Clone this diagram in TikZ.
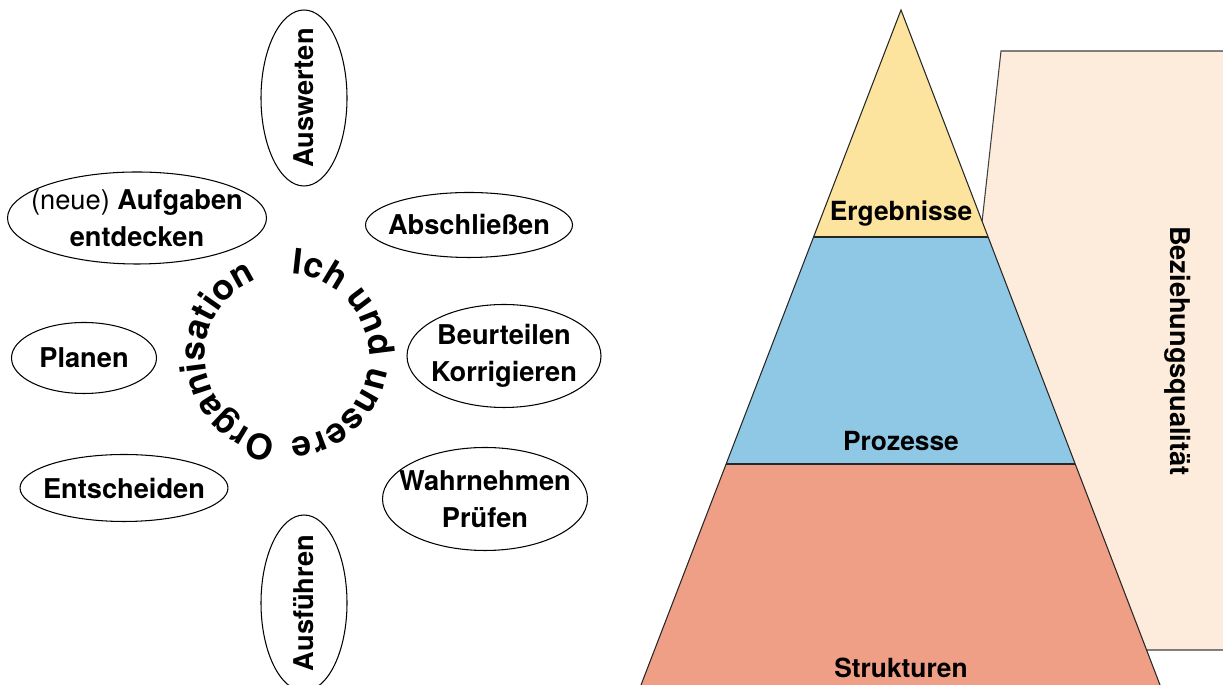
\documentclass[tikz,border=0pt]{standalone}
\usepackage{fontspec}
\setmainfont{TeX Gyre Heros}
\usetikzlibrary{calc,decorations.text}
\definecolor{gelb}{RGB}{252,228,158}
\definecolor{blau}{RGB}{143,200,228}
\definecolor{lachs}{RGB}{238,159,134}
\definecolor{pfirsich}{RGB}{253,235,220}
\tikzset{
  ovaltext/.style={inner sep=0pt,align=center,font=\fontsize{15.5}{21}\selectfont\bfseries},
  oval/.style={draw,line width=0.6pt},
  stufentext/.style={font=\fontsize{15}{18}\selectfont\bfseries},
  kreistext/.style={decorate,decoration={text along path,text align=left,
      text={|\fontsize{20}{20}\selectfont\bfseries|#1}}}
}

\begin{document}
\begin{tikzpicture}[x=0.02cm,y=0.02cm]
      \useasboundingbox (0,0) rectangle (1223,685);
      \clip (0,0) rectangle (1223,685);
      % Ellipsen links
      \node[ovaltext,rotate=90] (auswerten) at (304,587) {Auswerten};
      \node[ovaltext] (abschliessen) at (469,460) {Abschließen};
      \node[ovaltext] (aufgaben) at (137,467) {{\mdseries (neue)} Aufgaben\\entdecken};
      \node[ovaltext] (beurteilen) at (504,329) {Beurteilen\\Korrigieren};
      \node[ovaltext] (planen) at (84,327) {Planen};
      \node[ovaltext] (entscheiden) at (124,197) {Entscheiden};
      \node[ovaltext] (wahrnehmen) at (485,186) {Wahrnehmen\\Prüfen};
      \node[ovaltext,rotate=90] (ausfuehren) at (304,82) {Ausführen};
      \draw[oval] (auswerten.center) ellipse [x radius=43,y radius=88];
      \draw[oval] (abschliessen.center) ellipse [x radius=103.5,y radius=32.5];
      \draw[oval] (aufgaben.center) ellipse [x radius=129.5,y radius=46];
      \draw[oval] (beurteilen.center) ellipse [x radius=97,y radius=51.5];
      \draw[oval] (planen.center) ellipse [x radius=72.5,y radius=35.5];
      \draw[oval] (entscheiden.center) ellipse [x radius=104,y radius=33.5];
      \draw[oval] (wahrnehmen.center) ellipse [x radius=102.5,y radius=51.5];
      \draw[oval] (ausfuehren.center) ellipse [x radius=43,y radius=88];
      % Text im Kreis
      \coordinate (mitte) at (287,329);
      \path[kreistext=Organisation] (mitte) ++(263:1.64cm) arc[start angle=263,end angle=95,radius=1.64cm];
      \path[kreistext=Ich und unsere] (mitte) ++(87:1.64cm) arc[start angle=87,end angle=-92,radius=1.64cm];
      % Pyramide rechts
      \coordinate (spitze) at (901,675);
      \coordinate (ul) at (641,0);
      \coordinate (ur) at (1160,0);
      \coordinate (a1) at ($(spitze)!0.3363!(ul)$);
      \coordinate (a2) at ($(spitze)!0.3363!(ur)$);
      \coordinate (b1) at ($(spitze)!0.6726!(ul)$);
      \coordinate (b2) at ($(spitze)!0.6726!(ur)$);
      \draw[fill=pfirsich,draw=black!75,line width=0.6pt] (1240,35) -- (934.5,35) -- (1001,634) -- (1240,634); %Hintergrund
      \fill[gelb] (spitze) -- (a2) -- (a1) -- cycle;
      \fill[blau] (a1) -- (a2) -- (b2) -- (b1) -- cycle;
      \fill[lachs] (b1) -- (b2) -- (ur) -- (ul) -- cycle;
      \draw[line width=0.6pt,black!85] (ul) -- (spitze) -- (ur);
      \draw[line width=0.6pt,black!85] (a1) -- (a2);
      \draw[line width=0.6pt,black!85] (b1) -- (b2);
      \node[stufentext] (ergebnisse) at (901,471) {Ergebnisse};
      \node[stufentext] (prozesse) at (901,244) {Prozesse};
      \node[stufentext] (strukturen) at (901,17) {Strukturen};
      \node[font=\fontsize{15.5}{18}\selectfont\bfseries,rotate=-90] (bq) at (1178,334) {Beziehungsqualität};
\end{tikzpicture}
\end{document}
